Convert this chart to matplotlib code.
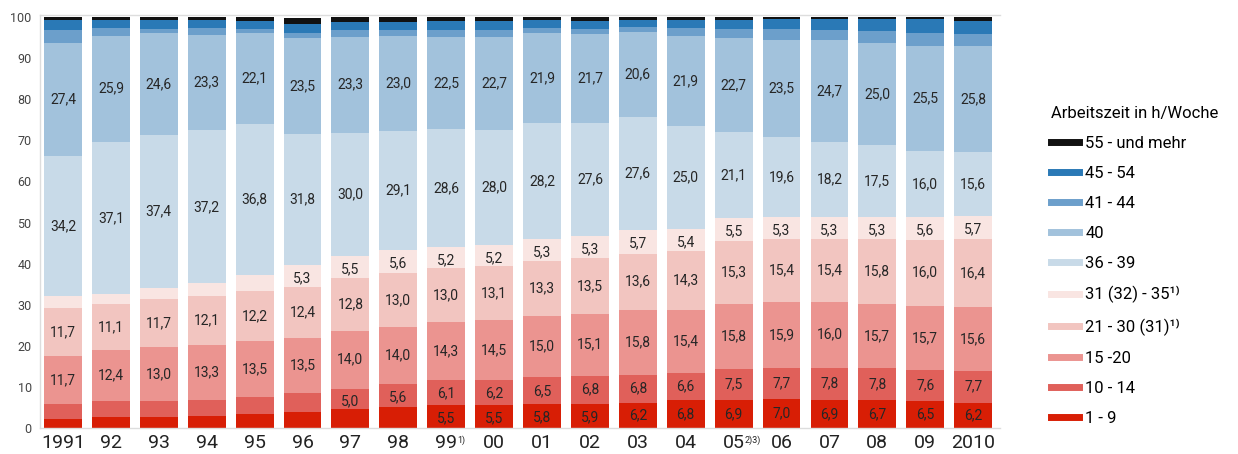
import numpy as np
import matplotlib
matplotlib.use('Agg')
import matplotlib.pyplot as plt
from matplotlib.lines import Line2D

plt.rcParams['font.family'] = ['Roboto', 'DejaVu Sans']

# Jahre (x-Achse) und Fußnoten-Hinweise
jahre = ['1991', '92', '93', '94', '95', '96', '97', '98', '99', '00',
         '01', '02', '03', '04', '05', '06', '07', '08', '09', '2010']
fussnoten = ['', '', '', '', '', '', '', '', '1)', '',
             '', '', '', '', '2)3)', '', '', '', '', '']

# Anteile in % je Arbeitszeitklasse, von unten nach oben
h_1_9 = [2.3, 2.7, 2.7, 2.8, 3.3, 4.0, 4.6, 5.0, 5.5, 5.5,
         5.8, 5.9, 6.2, 6.8, 6.9, 7.0, 6.9, 6.7, 6.5, 6.2]
h_10_14 = [3.5, 3.9, 3.9, 4.0, 4.3, 4.5, 5.0, 5.6, 6.1, 6.2,
           6.5, 6.8, 6.8, 6.6, 7.5, 7.7, 7.8, 7.8, 7.6, 7.7]
h_15_20 = [11.7, 12.4, 13.0, 13.3, 13.5, 13.5, 14.0, 14.0, 14.3, 14.5,
           15.0, 15.1, 15.8, 15.4, 15.8, 15.9, 16.0, 15.7, 15.7, 15.6]
h_21_30 = [11.7, 11.1, 11.7, 12.1, 12.2, 12.4, 12.8, 13.0, 13.0, 13.1,
           13.3, 13.5, 13.6, 14.3, 15.3, 15.4, 15.4, 15.8, 16.0, 16.4]
h_31_35 = [2.8, 2.4, 2.7, 3.0, 3.9, 5.3, 5.5, 5.6, 5.2, 5.2,
           5.3, 5.3, 5.7, 5.4, 5.5, 5.3, 5.3, 5.3, 5.6, 5.7]
h_36_39 = [34.2, 37.1, 37.4, 37.2, 36.8, 31.8, 30.0, 29.1, 28.6, 28.0,
           28.2, 27.6, 27.6, 25.0, 21.1, 19.6, 18.2, 17.5, 16.0, 15.6]
h_40 = [27.4, 25.9, 24.6, 23.3, 22.1, 23.5, 23.3, 23.0, 22.5, 22.7,
        21.9, 21.7, 20.6, 21.9, 22.7, 23.5, 24.7, 25.0, 25.5, 25.8]
h_41_44 = [3.2, 1.8, 1.0, 1.6, 1.0, 1.0, 1.6, 1.6, 1.6, 1.6,
           1.4, 1.3, 1.3, 2.0, 2.4, 2.6, 2.6, 2.8, 3.3, 2.8]
h_45_54 = [2.4, 2.0, 2.2, 1.9, 1.9, 2.4, 2.0, 2.0, 2.2, 2.2,
           2.0, 1.8, 1.8, 2.0, 2.2, 2.5, 2.6, 2.9, 3.3, 3.3]
h_55 = [0.8, 0.8, 0.8, 0.8, 1.0, 1.4, 1.2, 1.1, 1.0, 1.0,
        0.6, 1.0, 0.6, 0.6, 0.6, 0.5, 0.5, 0.5, 0.5, 0.9]

klassen = ['1 - 9', '10 - 14', '15 -20', '21 - 30 (31)¹⁾', '31 (32) - 35¹⁾',
           '36 - 39', '40', '41 - 44', '45 - 54', '55 - und mehr']
werte = [h_1_9, h_10_14, h_15_20, h_21_30, h_31_35,
         h_36_39, h_40, h_41_44, h_45_54, h_55]
farben = ['#d81e05', '#e0605a', '#eb9490', '#f2c5c0', '#f9e5e2',
          '#c8dae8', '#a2c2dc', '#6c9fcb', '#2a79b6', '#111111']
# ab welchem Jahr (Index) die Klasse beschriftet ist, None = nie
beschriftet_ab = [8, 6, 0, 0, 5, 0, 0, None, None, None]

fig = plt.figure(figsize=(12.38, 4.54), dpi=100)
ax = fig.add_axes([40 / 1238, 26 / 454, 960 / 1238, 413 / 454])

x = np.arange(len(jahre))
unten = np.zeros(len(jahre))
for werte_k, farbe, ab in zip(werte, farben, beschriftet_ab):
    werte_k = np.array(werte_k)
    ax.bar(x, werte_k, bottom=unten, width=0.79, color=farbe, linewidth=0)
    if ab is not None:
        for i in range(ab, len(jahre)):
            oben = unten[i] + werte_k[i]
            y = min(unten[i] + werte_k[i] / 2, oben - 3.2)
            ax.text(x[i], y, f'{werte_k[i]:.1f}'.replace('.', ','),
                    ha='center', va='center', fontsize=10, color='#262626')
    unten += werte_k

ax.set_xlim(-0.48, len(jahre) - 0.44)
ax.set_ylim(0, 100.5)
ax.set_yticks(range(0, 101, 10))
ax.set_xticks(x)
ax.set_xticklabels(jahre, fontsize=14, color='#222222')
ax.tick_params(axis='y', labelsize=9, colors='#444444', length=0, pad=6)
ax.tick_params(axis='x', length=0, pad=4)
for s in ['left', 'bottom', 'top']:
    ax.spines[s].set_color('#dddddd')
    ax.spines[s].set_linewidth(1)
ax.spines['right'].set_visible(False)

# kleine Fußnotenzeichen hinter den Jahreszahlen
for i, fn in enumerate(fussnoten):
    if fn:
        ax.annotate(fn, (x[i], 0), xycoords='data', xytext=(8, -5),
                    textcoords='offset points', ha='left', va='top',
                    fontsize=6.5, color='#222222', annotation_clip=False)

handles = [Line2D([0], [0], color=f, lw=5) for f in farben[::-1]]
leg = fig.legend(handles, klassen[::-1], loc='upper left',
                 bbox_to_anchor=(1036 / 1238, 1 - 91 / 454), frameon=False,
                 title='Arbeitszeit in h/Woche', alignment='left',
                 prop={'size': 12},
                 handlelength=1.7, handletextpad=0.35, labelspacing=0.9)
leg.get_title().set_fontsize(12)

fig.savefig('out.png', dpi=100)
